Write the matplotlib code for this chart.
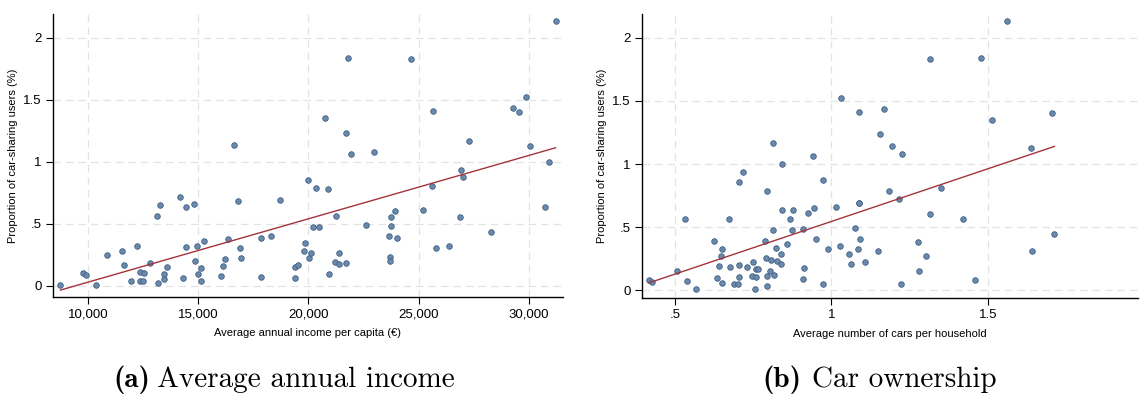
import numpy as np
import matplotlib
matplotlib.use("Agg")
import matplotlib.pyplot as plt

# ------------------------------------------
# Data
# ------------------------------------------
income = [8747, 9789, 9894, 10362, 10861, 11525, 11646, 11933, 12235, 12356,
          12356, 12492, 12537, 12809, 13111, 13277, 13156, 13428, 13458, 13594,
          14168, 14288, 14424, 14424, 14817, 14847, 14923, 14998, 15104, 15104,
          15270, 16010, 16146, 16206, 16372, 16614, 16826, 16901, 16961, 17852,
          17867, 18320, 18728, 19410, 19410, 19516, 19818, 19849, 19970, 20030,
          20121, 20212, 20348, 20469, 20772, 20908, 20923, 21210, 21241, 21377,
          21377, 21695, 21725, 21801, 21922, 22617, 22965, 23677, 23707, 23707,
          23737, 23737, 23949, 24010, 24660, 25190, 25613, 25674, 25780, 26355,
          26899, 26930, 27005, 27263, 28291, 29275, 29547, 29850, 30031, 30712,
          30894, 31211]
share_a = [0.005, 0.105, 0.086, 0.005, 0.247, 0.282, 0.172, 0.043, 0.320, 0.116,
           0.043, 0.040, 0.102, 0.185, 0.562, 0.648, 0.027, 0.056, 0.099, 0.151,
           0.718, 0.062, 0.637, 0.317, 0.659, 0.199, 0.325, 0.097, 0.145, 0.043,
           0.360, 0.078, 0.161, 0.220, 0.376, 1.137, 0.685, 0.304, 0.223, 0.387,
           0.075, 0.403, 0.691, 0.065, 0.151, 0.167, 0.285, 0.347, 0.852, 0.228,
           0.266, 0.476, 0.785, 0.476, 1.349, 0.780, 0.094, 0.191, 0.565, 0.263,
           0.175, 1.234, 0.183, 1.839, 1.062, 0.492, 1.078, 0.406, 0.237, 0.199,
           0.484, 0.556, 0.602, 0.387, 1.831, 0.610, 0.806, 1.409, 0.306, 0.325,
           0.556, 0.935, 0.874, 1.167, 0.438, 1.435, 1.403, 1.522, 1.129, 0.637,
           1.000, 2.134]

cars = [0.417, 0.428, 0.507, 0.531, 0.540, 0.569, 0.625, 0.635, 0.640, 0.648,
        0.651, 0.652, 0.674, 0.676, 0.688, 0.703, 0.704, 0.706, 0.706, 0.718,
        0.732, 0.745, 0.750, 0.757, 0.758, 0.760, 0.765, 0.787, 0.790, 0.794,
        0.795, 0.796, 0.803, 0.807, 0.813, 0.815, 0.816, 0.823, 0.826, 0.839,
        0.840, 0.841, 0.841, 0.857, 0.869, 0.873, 0.878, 0.910, 0.911, 0.912,
        0.924, 0.943, 0.945, 0.952, 0.972, 0.974, 0.990, 1.014, 1.029, 1.032,
        1.058, 1.064, 1.076, 1.086, 1.089, 1.089, 1.089, 1.093, 1.109, 1.150,
        1.154, 1.167, 1.183, 1.194, 1.216, 1.222, 1.227, 1.277, 1.281, 1.302,
        1.315, 1.315, 1.352, 1.422, 1.459, 1.478, 1.512, 1.562, 1.637, 1.641,
        1.706, 1.713]
share_b = [0.077, 0.066, 0.154, 0.562, 0.069, 0.011, 0.389, 0.098, 0.188, 0.268,
           0.326, 0.058, 0.567, 0.185, 0.048, 0.045, 0.196, 0.856, 0.103, 0.938,
           0.183, 0.109, 0.223, 0.011, 0.103, 0.170, 0.164, 0.389, 0.252, 0.109,
           0.784, 0.032, 0.154, 0.238, 0.477, 1.168, 0.119, 0.331, 0.228, 0.204,
           0.283, 1.001, 0.638, 0.363, 0.567, 0.479, 0.638, 0.487, 0.090, 0.177,
           0.609, 1.062, 0.649, 0.405, 0.045, 0.874, 0.326, 0.660, 0.350, 1.521,
           0.289, 0.204, 0.495, 0.323, 0.689, 0.692, 1.409, 0.405, 0.223, 0.307,
           1.237, 1.438, 0.789, 1.139, 0.721, 0.045, 1.081, 0.379, 0.148, 0.270,
           1.830, 0.604, 0.808, 0.562, 0.082, 1.841, 1.351, 2.135, 1.128, 0.310,
           1.407, 0.442]

y_ticks = [0, 0.5, 1, 1.5, 2]
y_tick_labels = ["0", ".5", "1", "1.5", "2"]
x_ticks_a = [10000, 15000, 20000, 25000, 30000]
x_tick_labels_a = ["10,000", "15,000", "20,000", "25,000", "30,000"]
x_ticks_b = [0.5, 1, 1.5]
x_tick_labels_b = [".5", "1", "1.5"]

# ------------------------------------------
# Plot
# ------------------------------------------
plt.rcParams['font.family'] = ['Liberation Sans', 'DejaVu Sans']

fig = plt.figure(figsize=(11.4, 3.96), dpi=100)
W, H = 1140, 396
ax_a = fig.add_axes([53 / W, 1 - 297 / H, 510 / W, 283 / H])
ax_b = fig.add_axes([642 / W, 1 - 298 / H, 496 / W, 284 / H])

dot_color = "#6a89ab"
dot_edge = "#3f5f85"
line_color = "#a3343c"


def draw_panel(ax, x, y, xlim, ylim, xticks, xlabels, xlabel):
    ax.scatter(x, y, s=16, color=dot_color, edgecolors=dot_edge,
               linewidths=0.6, zorder=3)
    slope, icpt = np.polyfit(x, y, 1)
    xs = np.array([min(x), max(x)])
    ax.plot(xs, icpt + slope * xs, color=line_color, linewidth=1.0, zorder=4)

    ax.set_xlim(*xlim)
    ax.set_ylim(*ylim)
    ax.set_xticks(xticks)
    ax.set_xticklabels(xlabels)
    ax.set_yticks(y_ticks)
    ax.set_yticklabels(y_tick_labels)
    ax.tick_params(labelsize=9.5, length=5, width=0.8, direction='out',
                   color='black', pad=3)
    ax.grid(True, color="#e3e3e3", linestyle=(0, (6, 4)), linewidth=0.9)
    ax.set_axisbelow(True)
    for side in ("top", "right"):
        ax.spines[side].set_visible(False)
    for side in ("left", "bottom"):
        ax.spines[side].set_linewidth(1.0)
    ax.set_xlabel(xlabel, fontsize=8, labelpad=6)
    ax.set_ylabel("Proportion of car-sharing users (%)", fontsize=8, labelpad=4)


draw_panel(ax_a, income, share_a, (8410, 31550), (-0.089, 2.19),
           x_ticks_a, x_tick_labels_a, "Average annual income per capita (€)")
draw_panel(ax_b, cars, share_b, (0.395, 1.98), (-0.063, 2.19),
           x_ticks_b, x_tick_labels_b, "Average number of cars per household")

# Captions: bold tag + roman text, on a common baseline
cap_base = 1 - 387 / H
fig.text(113 / W, cap_base, "(a)", ha='left', va='baseline',
         fontsize=21, family='cmb10')
fig.text(157 / W, cap_base, "Average annual income", ha='left', va='baseline',
         fontsize=21, family='cmr10')
fig.text(762 / W, cap_base, "(b)", ha='left', va='baseline',
         fontsize=21, family='cmb10')
fig.text(812 / W, cap_base, "Car ownership", ha='left', va='baseline',
         fontsize=21, family='cmr10')

plt.savefig("out.png", dpi=100)
